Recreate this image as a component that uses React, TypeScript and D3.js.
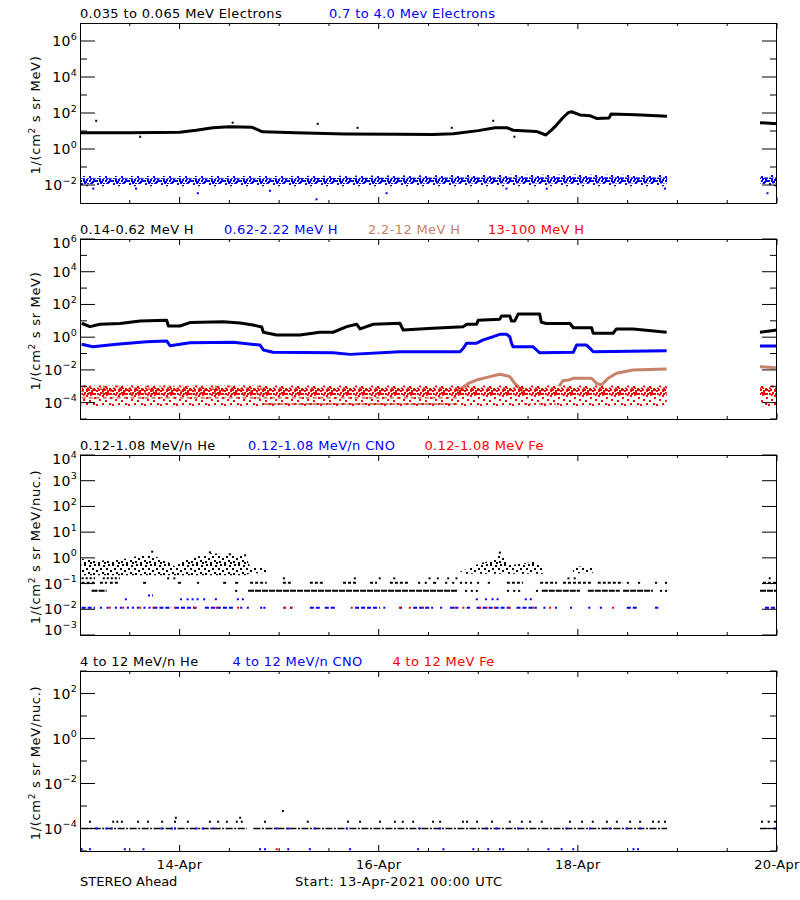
import React from "react";
import * as d3 from "d3";

type N = number | null;

// ---------------- time axis ----------------
const START_MS = Date.UTC(2021, 3, 13, 0, 0);
const END_MS = Date.UTC(2021, 3, 20, 0, 0);
const majorTickHours = [24, 72, 120, 168];
const majorTickLabels = ["14-Apr", "16-Apr", "18-Apr", "20-Apr"];
const minorTickHours = [12, 36, 48, 60, 84, 96, 108, 132, 144, 156];

// ---------------- y axes ----------------
const yDomains: [number, number][] = [[1e-3, 1e7], [1e-5, 1e6], [1e-3, 1e4], [1e-5, 1e3]];
const panelMajorExp = [[-2, 0, 2, 4, 6], [-4, -2, 0, 2, 4, 6], [-3, -2, -1, 0, 1, 2, 3, 4], [-4, -2, 0, 2]];
const panelMinorExp = [[-1, 1, 3, 5], [-5, -3, -1, 1, 3, 5], [], [-5, -3, -1, 1, 3]];
const yTitleUnits = ["MeV)", "MeV)", "MeV/nuc.)", "MeV/nuc.)"];

// ---------------- series labels ----------------
const panel1Labels = ["0.035 to 0.065 MeV Electrons", "0.7 to 4.0 Mev Electrons"];
const panel2Labels = ["0.14-0.62 MeV H", "0.62-2.22 MeV H", "2.2-12 MeV H", "13-100 MeV H"];
const panel3Labels = ["0.12-1.08 MeV/n He", "0.12-1.08 MeV/n CNO", "0.12-1.08 MeV Fe"];
const panel4Labels = ["4 to 12 MeV/n He", "4 to 12 MeV/n CNO", "4 to 12 MeV Fe"];
const footerLeft = "STEREO Ahead";
const footerStart = "Start: 13-Apr-2021 00:00 UTC";

// ---------------- panel 1 : electrons ----------------
const elecLowHours: N[] = [0, 12, 24, 28, 32, 36, 41.5, 44, 52, 64, 77, 85, 90, 96, 100, 103, 104.4, 110, 112.3, 113.7, 114.9, 116.5, 117.7, 118.5, 120.5, 123, 124.5, 127.5, 128, 134, 141.5, null, 163.9, 168];
const elecLowFlux: N[] = [8, 8, 8.5, 11, 15, 17, 16, 9, 8, 6.8, 6.6, 6.3, 7, 10.5, 15, 15, 11, 9.5, 6, 11.5, 22, 58, 105, 117, 78, 70, 50, 52, 87, 80, 66, null, 29, 25];
const elecLowOutHours = [3.9, 36.8, 57.3, 66.9, 99.6, 89.6, 104.7, 14.5];
const elecLowOutFlux = [37, 29, 25, 15, 37, 15, 4.8, 4.8];

const elecHighHours: N[] = [0, 24, 48, 72, 96, 120, 141.5, null, 163.9, 168];
const elecHighOuterLo: N[] = [0.0085, 0.0085, 0.0085, 0.0085, 0.0085, 0.0085, 0.0085, null, 0.0085, 0.0085];
const elecHighOuterHi: N[] = [0.032, 0.032, 0.032, 0.034, 0.036, 0.038, 0.036, null, 0.036, 0.036];
const elecHighCoreLo: N[] = [0.0115, 0.0115, 0.0115, 0.0115, 0.012, 0.012, 0.012, null, 0.012, 0.012];
const elecHighCoreHi: N[] = [0.024, 0.024, 0.024, 0.025, 0.026, 0.027, 0.026, null, 0.026, 0.026];
const elecHighOutHours = [3.2, 13.5, 28.4, 45.8, 57, 73.9, 102.8, 112.5, 141, 165.7];
const elecHighOutFlux = [0.0063, 0.0063, 0.0035, 0.0048, 0.0016, 0.0035, 0.0063, 0.0063, 0.0063, 0.0035];

// ---------------- panel 2 : protons ----------------
const protLowHours: N[] = [0.4, 2.4, 4.8, 9.6, 14.5, 20.9, 21.3, 24.1, 26.5, 34.5, 38.6, 41.7, 43.8, 44.2, 47.4, 53.0, 57.8, 61.0, 64.3, 66.7, 67.5, 70.7, 77.1, 77.9, 85, 92.4, 93.2, 95.6, 96.0, 101.2, 101.6, 103.6, 104.0, 104.8, 105.6, 110.8, 111.2, 112.4, 118.1, 118.9, 123.3, 123.7, 128.5, 129.3, 133.3, 141.4, null, 163.9, 168];
const protLowFlux: N[] = [7.1, 4.4, 6.2, 6.8, 9.8, 10.7, 4.8, 4.8, 7.8, 8.9, 7.4, 5.6, 4.2, 2.0, 1.35, 1.35, 2.0, 2.0, 4.4, 6.2, 3.2, 6.2, 7.1, 2.75, 3.5, 4.4, 6.2, 6.2, 11, 12.6, 20, 20, 9.8, 9.8, 26, 26, 8.1, 6.8, 6.8, 3.8, 3.8, 1.74, 1.74, 3.2, 3.2, 2.0, null, 2.0, 2.75];

const protMidHours: N[] = [0.4, 3.1, 8.8, 16.1, 20.9, 21.7, 26.5, 36.9, 43.4, 44.2, 46.5, 61, 65.1, 77.1, 91.6, 92.4, 93.2, 95.6, 97.2, 99.6, 101.2, 102.8, 103.6, 104.0, 104.4, 109.2, 110.8, 118.9, 119.7, 122.1, 123.3, 123.7, 141.4, null, 163.9, 168];
const protMidFlux: N[] = [0.37, 0.26, 0.37, 0.52, 0.59, 0.30, 0.45, 0.49, 0.33, 0.166, 0.12, 0.112, 0.089, 0.129, 0.129, 0.21, 0.43, 0.43, 0.68, 1.07, 1.5, 1.5, 1.07, 0.43, 0.26, 0.26, 0.11, 0.12, 0.33, 0.33, 0.166, 0.129, 0.15, null, 0.29, 0.29];

const tanEarlyHours: N[] = [0.4, 44.2];
const tanEarlyLo: N[] = [3e-4, 3e-4];
const tanEarlyHi: N[] = [1.1e-3, 1.1e-3];
const tanMidRowFlux = 2e-4;
const tanMidRowSegs = [[0.4, 91]];
const tanLowRowFlux = 8.3e-5;
const tanLowRowSegs = [[44.2, 91]];
const tanLowSparseSegs = [[20.5, 21.5], [23, 24], [107, 115.5]];
const tanCurveHours: N[] = [90.8, 93.6, 95.6, 98.8, 101.2, 103.6, 104.8, 106.0, 107, null, 115.5, 116.4, 118.1, 118.9, 123.3, 124.5, 125.7, 127.3, 129.3, 133.3, 141.4, null, 163.9, 168];
const tanCurveFlux: N[] = [4.7e-4, 1.5e-3, 2.4e-3, 3.9e-3, 5.4e-3, 3.9e-3, 1.5e-3, 7.6e-4, 4e-4, null, 1e-3, 2.2e-3, 2.5e-3, 3.1e-3, 3.1e-3, 1.5e-3, 1.2e-3, 3.1e-3, 6.2e-3, 0.01, 0.0112, null, 0.0158, 0.0132];

const redHours: N[] = [0.4, 141.4, null, 163.9, 168];
const redOuterLo: N[] = [6e-5, 6e-5, null, 6e-5, 6e-5];
const redOuterHi: N[] = [1.1e-3, 1.1e-3, null, 1.1e-3, 1.1e-3];
const redCoreLo: N[] = [2.6e-4, 2.6e-4, null, 2.6e-4, 2.6e-4];
const redCoreHi: N[] = [8.5e-4, 8.5e-4, null, 8.5e-4, 8.5e-4];

// ---------------- panel 3 : 0.12-1.08 MeV/n ions ----------------
const heCloudHours: N[] = [0.4, 4.8, 9.6, 13.3, 17.4, 20.5, 22.9, 25.3, 31.3, 36.1, 39.8, 41, 45, null, 91.6, 96.4, 98.8, 101.2, 102.4, 103.6, 106, 109.2, 111.6, null, 118.8, 123.6];
const heCloudHi: N[] = [0.91, 0.79, 0.83, 1.12, 1.23, 0.83, 0.46, 0.83, 1.5, 1.38, 1.26, 0.46, 0.42, null, 0.29, 0.62, 0.76, 1.5, 1.0, 0.52, 0.58, 0.71, 0.46, null, 0.46, 0.46];
const heCloudLo: N[] = [0.21, 0.21, 0.21, 0.21, 0.21, 0.21, 0.21, 0.21, 0.21, 0.21, 0.21, 0.25, 0.25, null, 0.24, 0.24, 0.24, 0.24, 0.24, 0.24, 0.24, 0.24, 0.24, null, 0.25, 0.25];
const heHighDotHours = [17.4, 31.3, 36.1, 39.8, 101.2];
const heHighDotFlux = [1.74, 1.64, 1.38, 1.26, 1.6];
const heRowAFlux = 0.052;
const heRowASegs = [[2.8, 6.4], [37.4, 37.9], [40.5, 91.1], [92.8, 93.3], [94.2, 94.7], [95.4, 95.9], [102.9, 103.4], [104.4, 104.9], [105.6, 106.1], [109.9, 110.4], [111.3, 120.5], [122.4, 130.1], [130.9, 138.1], [139.8, 140.3], [141.0, 141.5], [163.9, 168]];
const heRowBFlux = 0.107;
const heRowBSegs = [[0.4, 3.6], [4.8, 6.5], [7.2, 9.6], [15.2, 16.1], [23.6, 24.6], [28.2, 28.7], [34.5, 35.4], [37.4, 38.6], [41, 45], [48.9, 51.3], [55.4, 59], [63.4, 67], [69.9, 71.6], [74.7, 79.5], [81.5, 82], [83.1, 83.6], [85.1, 86], [88, 88.5], [89.7, 90.2], [91.6, 92.1], [92.8, 93.3], [94, 94.5], [95.7, 96.2], [98.3, 98.8], [102.9, 106.8], [110.9, 115], [116.4, 123.6], [124.8, 130.9], [131.8, 132.3], [134.5, 135], [138.6, 139.1], [141, 141.5], [164.6, 168]];
const heRowCFlux = 0.16;
const heRowCSegs = [[0.4, 3.6], [5.5, 9.6], [21, 21.5], [22.5, 23], [48.9, 49.4], [66, 66.5], [72, 72.5], [75.5, 76], [84, 84.5], [86, 86.5], [88.5, 89], [90.5, 91], [117.5, 118], [119, 119.5], [166, 166.5]];
const cnoRowFlux = 0.0115;
const cnoRowSegs = [[0.4, 3.6], [4.8, 5.3], [6.4, 6.9], [8.4, 8.9], [9.6, 10.1], [11.3, 11.8], [12.5, 13], [13.7, 14.2], [15.3, 15.8], [16.5, 17], [17.7, 22.1], [22.9, 28.1], [30.1, 36.9], [38.6, 39.1], [40.2, 40.7], [43.4, 43.9], [44.2, 44.7], [49, 49.5], [50.6, 51.1], [55.4, 57.8], [59, 61.9], [66.3, 72.3], [73.1, 73.6], [77.1, 77.6], [80.3, 85.1], [86.8, 87.3], [89.2, 91.2], [93.2, 94], [95.6, 103.6], [105.2, 110.1], [111.7, 112.2], [114.5, 115], [118.1, 118.6], [122.5, 123], [125.3, 125.8], [131.8, 134.2], [138.6, 139.4], [165.1, 167.9]];
const cnoUpperFlux = 0.0245;
const cnoUpperSegs = [[10.8, 11.3], [24.1, 24.6], [25.7, 26.2], [26.9, 27.4], [28.1, 28.6], [29.7, 30.2], [32.5, 33], [37.8, 39.8], [95.4, 95.9], [97.6, 98.1], [99.2, 101.2], [107.2, 108.9]];
const cnoUpper2Flux = 0.034;
const cnoUpper2Segs = [[16.4, 17.6]];
const feDotHours = [7.2, 10.4, 14.5, 17.7, 22.9, 27.7, 32.9, 38.1, 49.4, 51.0, 65.5, 77.1, 79.5, 82.7, 90.4, 92.4, 96.4, 98.0, 100.0, 103.6, 109.2, 113.3, 128.5];
const feDotFlux = 0.0115;

// ---------------- panel 4 : 4-12 MeV/n ions ----------------
const he4MainFlux = 1e-4;
const he4MainSegs = [[0.4, 40.2], [41.8, 141.5], [163.9, 168]];
const he4DotFlux = 2e-4;
const he4DotHours = [2.4, 8.0, 9.0, 10.1, 14.0, 16.4, 19.8, 22.9, 26.0, 31.3, 33.3, 35.4, 37.8, 39.0, 44.6, 54.9, 64.6, 67.5, 72.3, 75.9, 77.8, 80.3, 85.1, 86.8, 92.3, 93.3, 95.7, 99.3, 103.6, 106.5, 108.5, 111.3, 118.1, 121.0, 123.6, 127.0, 129.4, 132.6, 135.0, 138.1, 139.5, 141.0, 164.4, 166, 167.5];
const he4ExtraHours = [23.1, 38.6, 48.9];
const he4ExtraFlux = [3e-4, 3e-4, 6e-4];
const cno4MainHours = [4.0, 6.4, 7.6, 19.7, 22.1, 22.9, 28.1, 29.7, 32.1, 47.4, 50.2, 56.6, 64.3, 81.9, 86.8, 98.0, 100.4, 105.6, 117.3, 122.9, 127.7, 131.8, 135.0, 167.5];
const cno4LowFlux = 1.2e-5;
const cno4LowHours = [0.4, 2.4, 10.8, 15.3, 43.4, 44.6, 50.2, 55.4, 65.1, 81.5, 87.6, 94.8, 98.4, 101.2, 102.0, 112.9, 116.1, 118.9, 133.4, 134.5];
const fe4LowHours = [47.4];

// ---------------- style ----------------
const COL: Record<string, string> = { black: "#000000", blue: "#0000ff", red: "#ff0000", tan: "#c8826a" };
const TILES: Record<string, { w: number; h: number; cells: number[][] }> = {
  dense: {
    w: 16, h: 12,
    cells: [[0, 0], [3, 0], [5, 1], [9, 0], [12, 1], [14, 0], [1, 3], [4, 2], [7, 3], [10, 3], [13, 4], [0, 6], [2, 5], [6, 6], [8, 5], [11, 6], [14, 5], [1, 9], [4, 8], [7, 9], [9, 8], [12, 9], [14, 9], [3, 10], [10, 10]],
  },
  medium: { w: 14, h: 12, cells: [[0, 0], [5, 1], [10, 0], [2, 4], [8, 4], [12, 6], [4, 8], [9, 9], [0, 10], [6, 10]] },
  sparse: { w: 16, h: 14, cells: [[1, 1], [6, 3], [11, 0], [14, 5], [3, 7], [9, 8], [13, 11], [0, 12], [6, 11]] },
};
const FONT = "DejaVu Sans, Liberation Sans, Arial, sans-serif";

export default function App() {
  const L = 80, R = 777, PH = 180;
  const tops = [23, 239, 455, 671];
  const x = d3.scaleUtc().domain([new Date(START_MS), new Date(END_MS)]).range([L, R]);
  const xh = (h: number) => x(new Date(START_MS + h * 3600000));
  const ys = tops.map((t, i) => d3.scaleLog().domain(yDomains[i]).range([t + PH, t]));

  const linePath = (y: any, hours: N[], vals: N[]) =>
    d3.line<number>()
      .defined((i) => hours[i] != null && vals[i] != null)
      .x((i) => xh(hours[i] as number))
      .y((i) => y(vals[i] as number))(d3.range(hours.length)) || "";
  const areaPath = (y: any, hours: N[], lo: N[], hi: N[]) =>
    d3.area<number>()
      .defined((i) => hours[i] != null && lo[i] != null && hi[i] != null)
      .x((i) => xh(hours[i] as number))
      .y0((i) => y(lo[i] as number))
      .y1((i) => y(hi[i] as number))(d3.range(hours.length)) || "";

  const band = (k: string, y: any, hours: N[], lo: N[], hi: N[], dens: string, color: string) => (
    <path key={k} d={areaPath(y, hours, lo, hi)} fill={`url(#p-${dens}-${color})`} stroke="none" />
  );
  const thick = (k: string, y: any, hours: N[], vals: N[], color: string, w: number) => (
    <path key={k} d={linePath(y, hours, vals)} fill="none" stroke={COL[color]} strokeWidth={w} strokeLinejoin="round" />
  );
  const segs = (k: string, y: any, list: number[][], level: number, color: string, w: number, dash?: string) =>
    list.map(([a, b], j) => {
      const x1 = xh(a);
      const x2 = Math.max(xh(b), x1 + 2);
      return <line key={k + j} x1={x1} x2={x2} y1={y(level)} y2={y(level)} stroke={COL[color]} strokeWidth={w} strokeDasharray={dash} />;
    });
  const dots = (k: string, y: any, hours: number[], vals: number[] | number, color: string) =>
    hours.map((h, j) => {
      const v = Array.isArray(vals) ? vals[j] : vals;
      return <rect key={k + j} x={xh(h) - 1} y={y(v) - 1} width={2} height={2} fill={COL[color]} />;
    });

  const labelRows = [
    [[panel1Labels[0], 80, "black"], [panel1Labels[1], 329, "blue"]],
    [[panel2Labels[0], 80, "black"], [panel2Labels[1], 224, "blue"], [panel2Labels[2], 368, "tan"], [panel2Labels[3], 488, "red"]],
    [[panel3Labels[0], 80, "black"], [panel3Labels[1], 248, "blue"], [panel3Labels[2], 424.5, "red"]],
    [[panel4Labels[0], 80, "black"], [panel4Labels[1], 232.5, "blue"], [panel4Labels[2], 392.5, "red"]],
  ] as [string, number, string][][];

  const [y1, y2, y3, y4] = ys;
  const LS = 0.35;

  return (
    <svg width={800} height={900} viewBox="0 0 800 900" style={{ position: "absolute", left: 0, top: 0, background: "#fff" }} fontFamily={FONT}>
      <defs>
        {Object.keys(TILES).flatMap((dens) =>
          Object.keys(COL).map((c) => (
            <pattern key={dens + c} id={`p-${dens}-${c}`} width={TILES[dens].w} height={TILES[dens].h} patternUnits="userSpaceOnUse">
              {TILES[dens].cells.map(([cx, cy], j) => (
                <rect key={j} x={cx} y={cy} width={2} height={2} fill={COL[c]} />
              ))}
            </pattern>
          ))
        )}
      </defs>
      <rect x={0} y={0} width={800} height={900} fill="#fff" />

      {/* panel 1 */}
      {band("e-ho", y1, elecHighHours, elecHighOuterLo, elecHighOuterHi, "sparse", "blue")}
      {band("e-hc", y1, elecHighHours, elecHighCoreLo, elecHighCoreHi, "dense", "blue")}
      {dots("e-hd", y1, elecHighOutHours, elecHighOutFlux, "blue")}
      {thick("e-lo", y1, elecLowHours, elecLowFlux, "black", 3)}
      {dots("e-ld", y1, elecLowOutHours, elecLowOutFlux, "black")}

      {/* panel 2 */}
      {thick("p-lo", y2, protLowHours, protLowFlux, "black", 3)}
      {thick("p-mid", y2, protMidHours, protMidFlux, "blue", 3)}
      {band("t-early", y2, tanEarlyHours, tanEarlyLo, tanEarlyHi, "medium", "tan")}
      {segs("t-mid", y2, tanMidRowSegs, tanMidRowFlux, "tan", 2, "4 3")}
      {segs("t-low", y2, tanLowRowSegs, tanLowRowFlux, "tan", 2, "6 1")}
      {segs("t-lows", y2, tanLowSparseSegs, tanLowRowFlux, "tan", 2, "2 3")}
      {thick("t-curve", y2, tanCurveHours, tanCurveFlux, "tan", 3)}
      {band("r-out", y2, redHours, redOuterLo, redOuterHi, "sparse", "red")}
      {band("r-core", y2, redHours, redCoreLo, redCoreHi, "dense", "red")}

      {/* panel 3 */}
      {band("he-cloud", y3, heCloudHours, heCloudLo, heCloudHi, "medium", "black")}
      {dots("he-hi", y3, heHighDotHours, heHighDotFlux, "black")}
      {segs("he-a", y3, heRowASegs, heRowAFlux, "black", 2, "6 1")}
      {segs("he-b", y3, heRowBSegs, heRowBFlux, "black", 2, "3 2")}
      {segs("he-c", y3, heRowCSegs, heRowCFlux, "black", 2, "2 2")}
      {segs("cno-r", y3, cnoRowSegs, cnoRowFlux, "blue", 2, "4 2")}
      {segs("cno-u", y3, cnoUpperSegs, cnoUpperFlux, "blue", 2, "2 3")}
      {segs("cno-u2", y3, cnoUpper2Segs, cnoUpper2Flux, "blue", 2, "2 2")}
      {dots("fe", y3, feDotHours, feDotFlux, "red")}

      {/* panel 4 */}
      {segs("he4-m", y4, he4MainSegs, he4MainFlux, "black", 1.5, "7 1.5 2 1.5")}
      {dots("he4-d", y4, he4DotHours, he4DotFlux, "black")}
      {dots("he4-x", y4, he4ExtraHours, he4ExtraFlux, "black")}
      {dots("cno4-m", y4, cno4MainHours, he4MainFlux, "blue")}
      {dots("cno4-l", y4, cno4LowHours, cno4LowFlux, "blue")}
      {dots("fe4-l", y4, fe4LowHours, cno4LowFlux, "red")}

      {/* frames, ticks, labels */}
      {tops.map((top, i) => {
        const y = ys[i];
        const bottom = top + PH;
        return (
          <g key={"ax" + i}>
            <rect x={L + 0.5} y={top + 0.5} width={R - L - 1} height={PH} fill="none" stroke="#000" strokeWidth={1} />
            {majorTickHours.map((h) => (
              <g key={"mt" + h}>
                <line x1={xh(h)} x2={xh(h)} y1={top} y2={top + 6} stroke="#000" />
                <line x1={xh(h)} x2={xh(h)} y1={bottom} y2={bottom - 6} stroke="#000" />
              </g>
            ))}
            {minorTickHours.map((h) => (
              <g key={"nt" + h}>
                <line x1={xh(h)} x2={xh(h)} y1={top} y2={top + 3} stroke="#000" />
                <line x1={xh(h)} x2={xh(h)} y1={bottom} y2={bottom - 3} stroke="#000" />
              </g>
            ))}
            {panelMajorExp[i].map((e) => {
              const yy = y(Math.pow(10, e));
              const base = Math.min(Math.max(yy + 5, top + 9), bottom - 0.5);
              return (
                <g key={"ye" + e}>
                  <line x1={L} x2={L + 15} y1={yy} y2={yy} stroke="#000" />
                  <line x1={R} x2={R - 15} y1={yy} y2={yy} stroke="#000" />
                  <text x={77} y={base} textAnchor="end" fontSize={14} fill="#000" letterSpacing={0.3}>
                    10<tspan dy={-6.5} fontSize={9.5}>{e < 0 ? "\u2212" + -e : String(e)}</tspan>
                  </text>
                </g>
              );
            })}
            {panelMinorExp[i].map((e) => {
              const yy = y(Math.pow(10, e));
              return (
                <g key={"yn" + e}>
                  <line x1={L} x2={L + 7} y1={yy} y2={yy} stroke="#000" />
                  <line x1={R} x2={R - 7} y1={yy} y2={yy} stroke="#000" />
                </g>
              );
            })}
            <text transform={`translate(40,${top + PH / 2 + 2}) rotate(-90)`} textAnchor="middle" fontSize={13} fill="#000" letterSpacing={0.7}>
              1/(cm<tspan dy={-5} fontSize={9}>2</tspan>
              <tspan dy={5}>{" s sr " + yTitleUnits[i]}</tspan>
            </text>
            {labelRows[i].map(([txt, lx, c]) => (
              <text key={txt} x={lx} y={top - 5} fontSize={13} fill={COL[c]} letterSpacing={LS}>
                {txt}
              </text>
            ))}
          </g>
        );
      })}

      {majorTickHours.map((h, j) => (
        <text key={"xl" + h} x={xh(h)} y={869} textAnchor="middle" fontSize={13} fill="#000" letterSpacing={LS}>
          {majorTickLabels[j]}
        </text>
      ))}
      <text x={80} y={885.5} fontSize={13} fill="#000">{footerLeft}</text>
      <text x={295} y={885.5} fontSize={13} fill="#000" letterSpacing={0.55}>{footerStart}</text>
    </svg>
  );
}
